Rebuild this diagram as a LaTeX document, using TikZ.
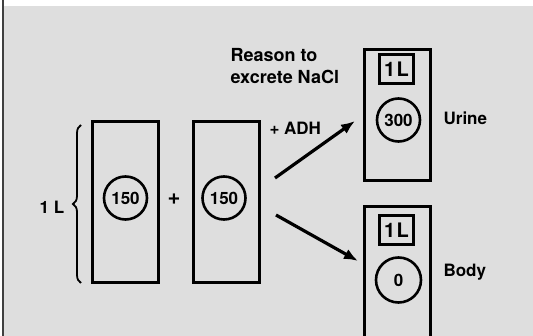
\documentclass[tikz,border=0pt]{standalone}
\usepackage{fontspec}
\setmainfont{TeX Gyre Heros}
\usetikzlibrary{arrows.meta,decorations.pathreplacing}
\tikzset{
  tank/.style={draw, line width=3pt, fill=black!13, minimum width=66pt, inner sep=0pt},
  conc/.style={draw, circle, line width=2.6pt, minimum size=43pt, inner sep=0pt},
  vol/.style={draw, line width=2.6pt, minimum width=34pt, minimum height=29pt, inner sep=0pt,
    font=\bfseries\fontsize{20}{22}\selectfont},
  arr/.style={-{Latex[length=14pt,width=11pt]}, line width=3.2pt},
}
\begin{document}
\begin{tikzpicture}[x=1pt, y=-1pt, font=\bfseries\fontsize{17}{19}\selectfont]
  \useasboundingbox (0,0) rectangle (533,336);
  % paper and left edge
  \fill[black!13] (3,6) rectangle (533,336);
  \draw[black!75, line width=1.5pt] (3,0) -- (3,336);
  % two 1 L compartments, 150 each
  \node[tank, minimum height=161pt] (left) at (125.5,202.5) {};
  \node[tank, minimum height=161pt] (right) at (226.5,202.5) {};
  \node[conc] (cl) at (125.5,198) {150};
  \node[conc] (cr) at (224,198) {150};
  \node[font=\bfseries\fontsize{22}{24}\selectfont] (plus) at (174,199) {+};
  % brace with the volume
  \coordinate (brb) at (81,283);
  \coordinate (brt) at (81,125);
  \draw[decorate, decoration={brace, amplitude=8pt}, line width=1.8pt] (brb) -- (brt);
  \node (vl) at (52,207) {1 L};
  % after ADH: urine and body
  \node[tank, minimum height=131pt] (urine) at (397.5,115) {};
  \node[tank, minimum height=143pt] (body) at (397.5,278.5) {};
  \foreach \n/\y in {tu/69, tb/230} {
    \node[vol] (\n) at (396.5,\y) {1\kern1.5pt L};
  }
  \node[conc] (cu) at (398.5,120) {300};
  \node[conc, minimum size=45pt] (cb) at (398.5,280) {0};
  \node[anchor=west] (lu) at (440,118) {Urine};
  \node[anchor=west] (lb) at (440,272) {Body};
  % arrows
  \coordinate (u0) at (275,178);
  \coordinate (u1) at (355,121);
  \coordinate (b0) at (276,215);
  \coordinate (b1) at (358,261);
  \draw[arr] (u0) -- (u1);
  \draw[arr] (b0) -- (b1);
  \node[anchor=west] (adh) at (266,128) {+ ADH};
  \node[anchor=north west, align=left, font=\bfseries\fontsize{18}{22}\selectfont]
    (why) at (227,45) {Reason to\\excrete NaCl};
\end{tikzpicture}
\end{document}
